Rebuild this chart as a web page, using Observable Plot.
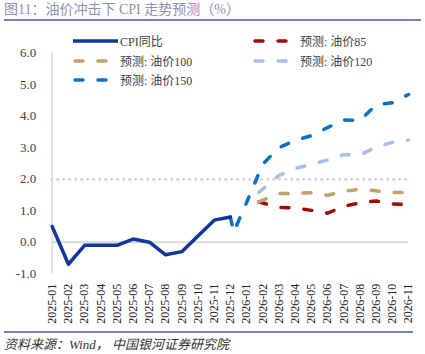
<!DOCTYPE html>
<html><head><meta charset="utf-8">
<script src="https://cdn.jsdelivr.net/npm/d3@7"></script>
<script src="https://cdn.jsdelivr.net/npm/@observablehq/plot@0.6"></script>
<style>
body{margin:0;width:425px;height:354px;position:relative;background:#fff;overflow:hidden;font-family:"Liberation Serif","Noto Sans CJK SC",serif;}
#title{position:absolute;left:4px;top:2px;font-size:14px;line-height:16px;color:#8a90b2;white-space:nowrap;}
.rule{position:absolute;left:4px;height:2px;background:#6d82bf;}
#chart{position:absolute;left:0;top:22px;}
#legend{position:absolute;left:73px;top:31px;display:grid;grid-template-columns:180px 160px;grid-auto-rows:19.7px;font-size:12px;color:#404040;}
.item{display:flex;align-items:center;white-space:nowrap;}
.item svg{width:47px;height:8px;flex:none;}
#source{position:absolute;left:4px;top:337px;font-size:13px;line-height:16px;font-style:italic;color:#333;white-space:nowrap;}
</style></head>
<body>
<div id="title">图11：油价冲击下 CPI 走势预测（%）</div>
<div class="rule" style="top:19px;width:417px"></div>
<div id="chart"></div>
<div id="legend"></div>
<div class="rule" style="top:331px;width:409px"></div>
<div id="source">资料来源：Wind， 中国银河证券研究院</div>
<script>
// Categories (months)
const months = ["2025-01","2025-02","2025-03","2025-04","2025-05","2025-06","2025-07","2025-08","2025-09","2025-10","2025-11","2025-12",
  "2026-01","2026-02","2026-03","2026-04","2026-05","2026-06","2026-07","2026-08","2026-09","2026-10","2026-11"];
const yTicks = [-1, 0, 1, 2, 3, 4, 5, 6];
const targetLine = [2];

// CPI actual (month index 0..11)
const cpiIdx = [0,1,2,3,4,5,6,7,8,9,10,11];
const cpi = [0.5,-0.7,-0.1,-0.1,-0.1,0.1,0.0,-0.4,-0.3,0.2,0.7,0.8];

// Forecast scenarios (month index positions)
const fcIdx = [12.75,14,15,16,17,18,19,20,21,22];
const oil85  = [1.28,1.10,1.09,1.01,0.92,1.14,1.25,1.31,1.21,1.20];
const oil100 = [1.28,1.55,1.55,1.57,1.49,1.62,1.68,1.63,1.58,1.58];
const oil120 = [1.58,2.12,2.34,2.47,2.61,2.78,2.77,3.02,3.17,3.24];
const oil150Idx = [11,11.2,12,13,14,15,16,17,18,19,20,21,22];
const oil150 = [0.8,0.32,1.26,2.48,3.0,3.23,3.38,3.64,3.88,3.87,4.36,4.43,4.69];

const seriesNames = ["CPI同比","预测: 油价85","预测: 油价100","预测: 油价120","预测: 油价150"];
const seriesColors = ["#13369a","#9e0b0b","#c3a06c","#a9bfe9","#0b72c3"];

const toRows = (xs, ys) => xs.map((x, i) => ({x, y: ys[i]}));
const dashed = (rows, color) => Plot.line(rows, {x:"x", y:"y", stroke: color, strokeWidth:3.5,
  strokeDasharray:"8 15", strokeLinecap:"round", strokeLinejoin:"round"});

const H = 308;
const chart = Plot.plot({
  width: 425, height: H,
  marginLeft: 51.7, marginRight: 16.9, marginTop: 30.7, marginBottom: H - 251.2,
  x: {domain: [0, months.length - 1]},
  y: {domain: [-1, 6]},
  style: {fontFamily: "Liberation Serif, Noto Sans CJK SC, serif", background: "transparent", overflow: "visible"},
  marks: [
    Plot.ruleY(targetLine, {stroke:"#d3d3d3", strokeWidth:3, strokeDasharray:"0 6", strokeLinecap:"round"}),
    Plot.ruleY([0], {stroke:"#d9d9d9", strokeWidth:2}),
    Plot.ruleX([0], {stroke:"#d9d9d9", strokeWidth:1.5}),
    Plot.axisY({ticks: yTicks, tickFormat: d => d.toFixed(1), tickSize: 0, tickPadding: 16, fontSize: 13, fill: "#404040", label: null}),
    Plot.axisX({ticks: d3.range(months.length), tickFormat: i => months[i], tickRotate: -90, tickSize: 0, tickPadding: 10, fontSize: 12, fill: "#222", label: null}),
    dashed(toRows(fcIdx, oil85), seriesColors[1]),
    dashed(toRows(fcIdx, oil100), seriesColors[2]),
    dashed(toRows(fcIdx, oil120), seriesColors[3]),
    dashed(toRows(oil150Idx, oil150), seriesColors[4]),
    Plot.line(toRows(cpiIdx, cpi), {x:"x", y:"y", stroke: seriesColors[0], strokeWidth:3.5, strokeLinejoin:"round"})
  ]
});
document.getElementById("chart").appendChild(chart);

// Legend
const legendOrder = [0,1,2,3,4];
const legend = document.getElementById("legend");
legendOrder.forEach(k => {
  const item = document.createElement("div");
  item.className = "item";
  const ns = "http://www.w3.org/2000/svg";
  const svg = document.createElementNS(ns, "svg");
  svg.setAttribute("viewBox", "0 0 47 8");
  const ln = document.createElementNS(ns, "line");
  ln.setAttribute("y1", 4); ln.setAttribute("y2", 4);
  ln.setAttribute("stroke", seriesColors[k]);
  ln.setAttribute("stroke-width", 3.5);
  if (k === 0) { ln.setAttribute("x1", 0); ln.setAttribute("x2", 45); }
  else { ln.setAttribute("x1", 2); ln.setAttribute("x2", 45);
    ln.setAttribute("stroke-dasharray", "8 15"); ln.setAttribute("stroke-linecap", "round"); }
  svg.appendChild(ln);
  const span = document.createElement("span");
  span.textContent = seriesNames[k];
  item.appendChild(svg); item.appendChild(span);
  legend.appendChild(item);
});
</script>
</body></html>
